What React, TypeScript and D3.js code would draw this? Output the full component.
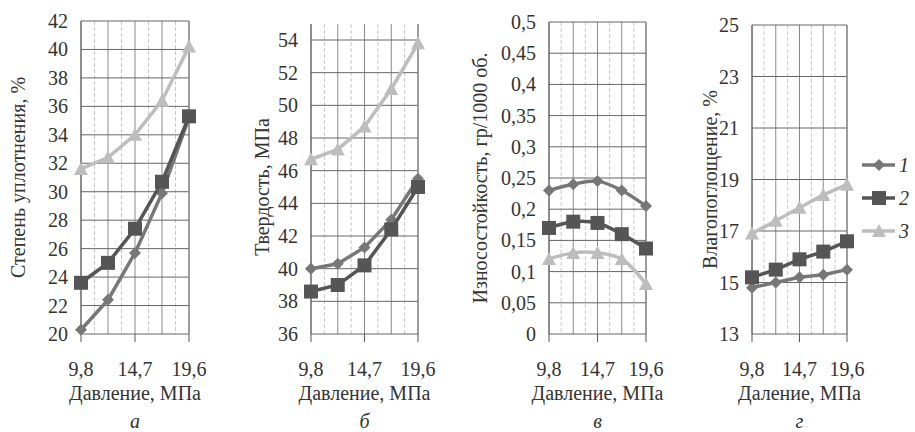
import React from 'react';
import * as d3 from 'd3';

// pressure, MPa
const pressure = [9.8, 12.25, 14.7, 17.15, 19.6];
const pressureTicks = [9.8, 14.7, 19.6];

// а — degree of compaction, %
const compaction1 = [20.3, 22.4, 25.7, 29.9, 35.2];
const compaction2 = [23.6, 25.0, 27.4, 30.7, 35.3];
const compaction3 = [31.6, 32.4, 34.0, 36.4, 40.2];

// б — hardness, MPa
const hardness1 = [40.0, 40.3, 41.3, 43.0, 45.5];
const hardness2 = [38.6, 39.0, 40.2, 42.4, 45.0];
const hardness3 = [46.7, 47.3, 48.7, 51.0, 53.8];

// в — wear resistance
const wear1 = [0.23, 0.24, 0.245, 0.23, 0.205];
const wear2 = [0.17, 0.18, 0.178, 0.16, 0.137];
const wear3 = [0.12, 0.13, 0.13, 0.12, 0.08];

// г — water absorption, %
const water1 = [14.8, 15.0, 15.2, 15.3, 15.5];
const water2 = [15.2, 15.5, 15.9, 16.2, 16.6];
const water3 = [16.9, 17.4, 17.9, 18.4, 18.8];

const legendLabels = ['1', '2', '3'];

const colors = ['#777777', '#555555', '#bdbdbd'];
const markers = ['diamond', 'square', 'triangle'];
const textStyle: React.CSSProperties = { fontFamily: "'Liberation Serif', 'Times New Roman', 'DejaVu Serif', serif" };
const fs = 20;

type PanelDef = {
  left: number;
  right: number;
  top: number;
  bottom: number;
  domain: [number, number];
  yTicks: number[];
  fmt: (v: number) => string;
  yTitle: string;
  yTitleX: number;
  xTitle: string;
  letter: string;
  series: number[][];
  smooth?: boolean;
};

const comma = (v: number) => String(+v.toFixed(2)).replace('.', ',');

const panels: PanelDef[] = [
  {
    left: 81, right: 189, top: 21, bottom: 334, domain: [20, 42],
    yTicks: d3.range(20, 43, 2), fmt: comma,
    yTitle: 'Степень уплотнения, %', yTitleX: 18, xTitle: 'Давление, МПа', letter: 'а',
    series: [compaction1, compaction2, compaction3],
  },
  {
    left: 311, right: 418, top: 40, bottom: 334, domain: [36, 54],
    yTicks: d3.range(36, 55, 2), fmt: comma,
    yTitle: 'Твердость, МПа', yTitleX: 262, xTitle: 'Давление, МПа', letter: 'б',
    series: [hardness1, hardness2, hardness3],
  },
  {
    left: 549, right: 646, top: 22, bottom: 334, domain: [0, 0.5],
    yTicks: d3.range(0, 0.501, 0.05), fmt: comma,
    yTitle: 'Износостойкость, гр/1000 об.', yTitleX: 480, xTitle: 'Давление, МПа', letter: 'в',
    series: [wear1, wear2, wear3], smooth: true,
  },
  {
    left: 752, right: 847, top: 25, bottom: 334, domain: [13, 25],
    yTicks: d3.range(13, 26, 2), fmt: comma,
    yTitle: 'Влагопоглощение, %', yTitleX: 710, xTitle: 'Даление, МПа', letter: 'г',
    series: [water1, water2, water3],
  },
];

const Marker = ({ kind, x, y, color }: { kind: string; x: number; y: number; color: string }) => {
  if (kind === 'square') return <rect x={x - 7} y={y - 7} width={14} height={14} fill={color} />;
  if (kind === 'triangle') {
    const p = d3.path();
    p.moveTo(x, y - 7); p.lineTo(x + 7, y + 6); p.lineTo(x - 7, y + 6); p.closePath();
    return <path d={p.toString()} fill={color} />;
  }
  const p = d3.path();
  p.moveTo(x, y - 6); p.lineTo(x + 6, y); p.lineTo(x, y + 6); p.lineTo(x - 6, y); p.closePath();
  return <path d={p.toString()} fill={color} />;
};

const Panel = ({ def }: { def: PanelDef }) => {
  const x = d3.scaleLinear().domain([pressure[0], pressure[pressure.length - 1]]).range([def.left, def.right]);
  const y = d3.scaleLinear().domain(def.domain).range([def.bottom, def.top]);
  const step = (pressure[1] - pressure[0]) / 2;
  const vGrid = d3.range(pressure[0], pressure[pressure.length - 1] + 0.01, step);
  const line = d3.line<number>()
    .x((_, i) => x(pressure[i]))
    .y(d => y(d))
    .curve(def.smooth ? d3.curveCatmullRom.alpha(0.5) : d3.curveLinear);
  const midY = (def.top + def.bottom) / 2;
  const midX = (def.left + def.right) / 2;
  const gridTop = def.top - (def.top > 30 ? 16 : 0);
  return (
    <g fill="#333">
      {vGrid.map((v, i) => (
        <line key={'v' + i} x1={x(v)} x2={x(v)} y1={gridTop} y2={def.bottom}
          stroke={i % 2 === 0 ? '#8a8a8a' : '#c8c8c8'} strokeWidth={1} strokeDasharray={i % 2 === 0 ? undefined : '4,2'} />
      ))}
      {def.yTicks.map((t, i) => (
        <line key={'h' + i} x1={def.left} x2={def.right} y1={y(t)} y2={y(t)} stroke="#666" strokeWidth={1} />
      ))}
      <line x1={def.left} x2={def.left} y1={gridTop} y2={def.bottom} stroke="#555" />
      <line x1={def.right} x2={def.right} y1={gridTop} y2={def.bottom} stroke="#777" />
      {pressureTicks.map((t, i) => (
        <line key={'xt' + i} x1={x(t)} x2={x(t)} y1={def.bottom} y2={def.bottom + 8} stroke="#555" />
      ))}
      {def.yTicks.map((t, i) => (
        <text key={'yl' + i} style={textStyle} x={def.left - 13} y={y(t)} dy="0.35em" textAnchor="end" fontSize={fs}>{def.fmt(t)}</text>
      ))}
      {pressureTicks.map((t, i) => (
        <text key={'xl' + i} style={textStyle} x={x(t)} y={376} textAnchor="middle" fontSize={fs}>{comma(t)}</text>
      ))}
      <text style={textStyle} x={midX} y={400} textAnchor="middle" fontSize={fs}>{def.xTitle}</text>
      <text style={textStyle} x={midX} y={428} textAnchor="middle" fontSize={fs} fontStyle="italic">{def.letter}</text>
      <text style={textStyle} transform={`translate(${def.yTitleX},${midY}) rotate(-90)`} textAnchor="middle" dy="0.35em" fontSize={fs}>{def.yTitle}</text>
      {def.series.map((s, si) => (
        <g key={'s' + si}>
          <path d={line(s) || ''} fill="none" stroke={colors[si]} strokeWidth={3.5} />
          {s.map((v, i) => (
            <Marker key={i} kind={markers[si]} x={x(pressure[i])} y={y(v)} color={colors[si]} />
          ))}
        </g>
      ))}
    </g>
  );
};

const App = () => {
  const legendY = d3.scalePoint<string>().domain(legendLabels).range([165, 231]);
  return (
    <svg width={915} height={432} style={{ position: 'absolute', left: 0, top: 0, background: '#fff' }}>
      <rect width={915} height={432} fill="#fff" />
      {panels.map((p, i) => <Panel key={i} def={p} />)}
      {legendLabels.map((l, i) => (
        <g key={l}>
          <line x1={862} x2={895} y1={legendY(l)} y2={legendY(l)} stroke={colors[i]} strokeWidth={3.5} />
          <Marker kind={markers[i]} x={879} y={legendY(l) as number} color={colors[i]} />
          <text style={textStyle} x={899} y={legendY(l)} dy="0.35em" fontSize={fs} fontStyle="italic" fill="#333">{l}</text>
        </g>
      ))}
    </svg>
  );
};

export default App;
